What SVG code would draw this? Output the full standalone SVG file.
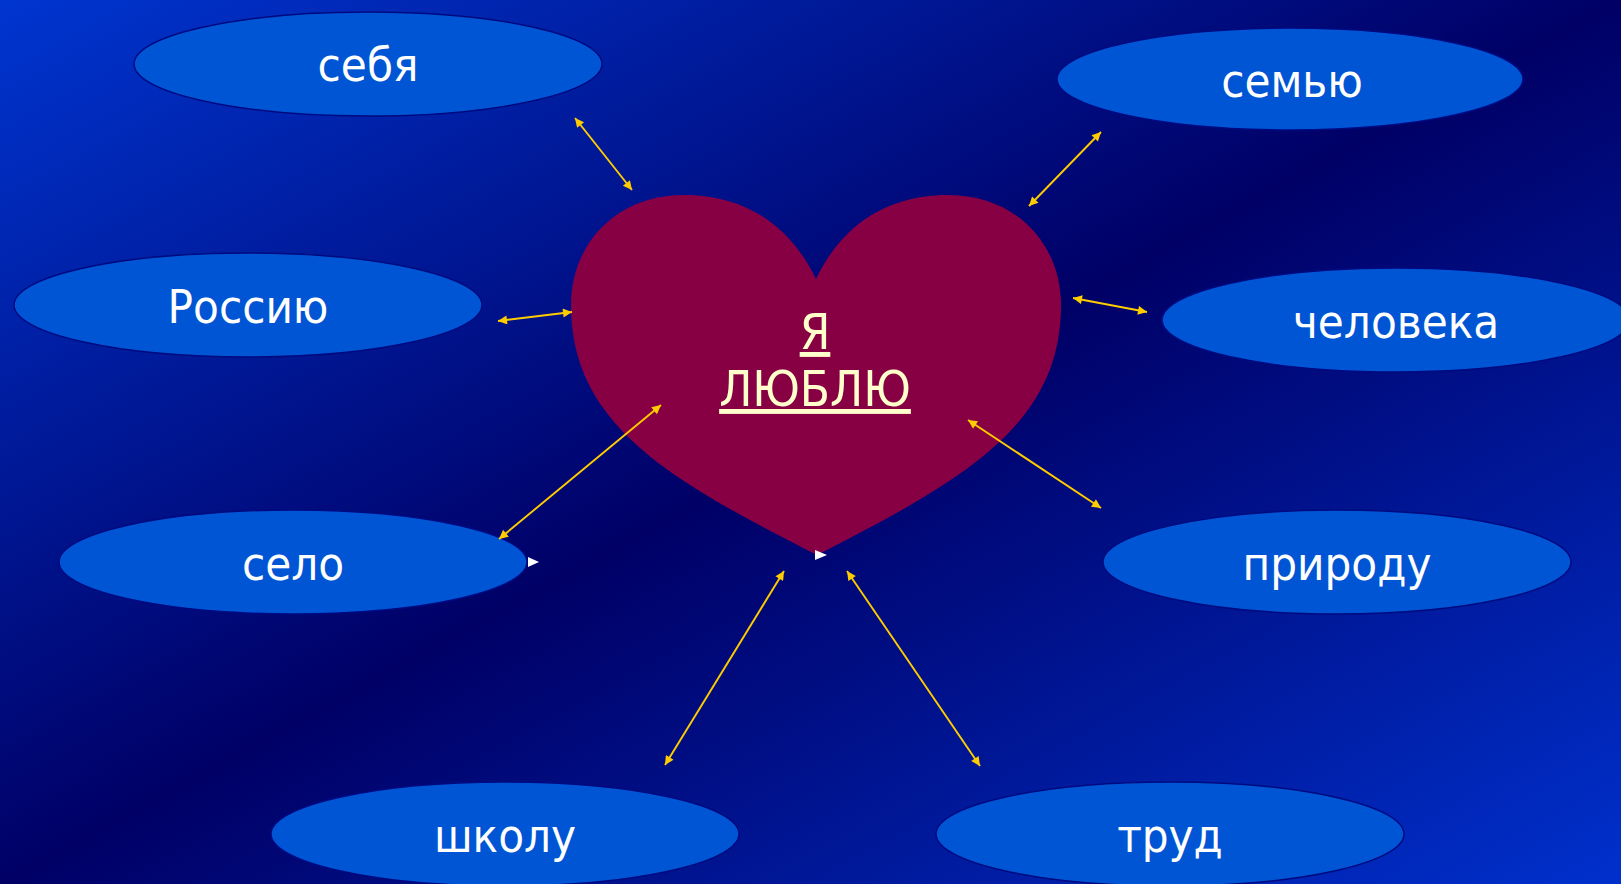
<svg xmlns="http://www.w3.org/2000/svg" width="1621" height="884" viewBox="0 0 1621 884">
<defs>
<linearGradient id="bg" x1="0" y1="0" x2="1" y2="1">
<stop offset="0" stop-color="#0035d0"/>
<stop offset="0.5" stop-color="#000066"/>
<stop offset="1" stop-color="#0030cc"/>
</linearGradient>
<marker id="ah" viewBox="0 0 10 10" refX="10" refY="5" markerWidth="12" markerHeight="9" markerUnits="userSpaceOnUse" orient="auto-start-reverse">
<path d="M0,0 L10,5 L0,10 Z" fill="#ffcc00"/>
</marker>
<style>
.node ellipse{fill:#0055d4;stroke:#000a80;stroke-width:1.5}
.lbl{font-family:"DejaVu Sans Condensed","DejaVu Sans",sans-serif;font-stretch:condensed;font-size:47px;fill:#ffffff;text-anchor:middle}
.ttl{font-family:"DejaVu Sans Condensed","DejaVu Sans",sans-serif;font-stretch:condensed;font-size:49px;fill:#ffffcc;text-anchor:middle;text-decoration:underline}
#connectors line{stroke:#ffcc00;stroke-width:1.9;marker-start:url(#ah);marker-end:url(#ah)}
</style>
</defs>
<rect width="1621" height="884" fill="url(#bg)"/>
<g id="heart">
<path d="M816,279 C790,225 745,195 684,195 C615,195 571,245 571,305 C571,425 670,480 817,555 C964,480 1061,425 1061,305 C1061,245 1017,195 948,195 C887,195 842,225 816,279 Z" fill="#880044"/>
<text class="ttl" x="815" y="349">Я</text>
<text class="ttl" x="815" y="406">ЛЮБЛЮ</text>
</g>
<g id="n-sebya" class="node"><ellipse cx="368" cy="64" rx="234" ry="52"/><text class="lbl" x="368" y="81">себя</text></g>
<g id="n-semyu" class="node"><ellipse cx="1290" cy="79" rx="233" ry="51"/><text class="lbl" x="1292" y="97">семью</text></g>
<g id="n-rossiyu" class="node"><ellipse cx="248" cy="305" rx="234" ry="52"/><text class="lbl" x="248" y="323">Россию</text></g>
<g id="n-cheloveka" class="node"><ellipse cx="1396" cy="320" rx="234" ry="52"/><text class="lbl" x="1396" y="338">человека</text></g>
<g id="n-selo" class="node"><ellipse cx="293" cy="562" rx="234" ry="52"/><text class="lbl" x="293" y="580">село</text></g>
<g id="n-prirodu" class="node"><ellipse cx="1337" cy="562" rx="234" ry="52"/><text class="lbl" x="1337" y="580">природу</text></g>
<g id="n-shkolu" class="node"><ellipse cx="505" cy="834" rx="234" ry="52"/><text class="lbl" x="505" y="852">школу</text></g>
<g id="n-trud" class="node"><ellipse cx="1170" cy="834" rx="234" ry="52"/><text class="lbl" x="1170" y="852">труд</text></g>
<g id="connectors">
<line x1="575" y1="118" x2="632" y2="190"/>
<line x1="1101" y1="132" x2="1029" y2="206"/>
<line x1="498" y1="321" x2="572" y2="312"/>
<line x1="1073" y1="298" x2="1147" y2="312"/>
<line x1="499" y1="539" x2="661" y2="405"/>
<line x1="968" y1="420" x2="1101" y2="508"/>
<line x1="665" y1="765" x2="784" y2="571"/>
<line x1="980" y1="766" x2="847" y2="571"/>
</g>
<g id="marks" fill="#ffffff">
<path d="M528,557 L539,562 L528,567 Z"/>
<path d="M815,550 L827,555 L815,560 Z"/>
</g>
</svg>
